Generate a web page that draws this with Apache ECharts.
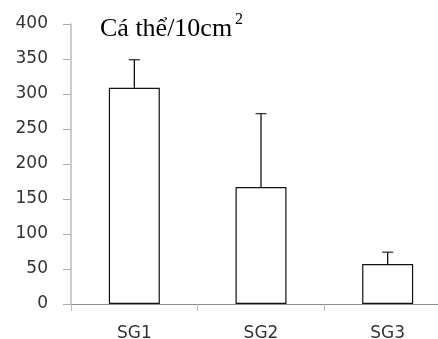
<!DOCTYPE html>
<html>
<head>
<meta charset="utf-8">
<script src="https://cdn.jsdelivr.net/npm/echarts@6/dist/echarts.min.js"></script>
<style>
  html, body { margin: 0; padding: 0; background: #fff; }
  #main { width: 438px; height: 339px; }
</style>
</head>
<body>
<div id="main"></div>
<script>
// values
const categories = ['SG1', 'SG2', 'SG3'];
const means = [309, 167, 57];
const errors = [40, 105, 17];
const yTicks = [0, 50, 100, 150, 200, 250, 300, 350, 400];

const chart = echarts.init(document.getElementById('main'));

const option = {
  animation: false,
  backgroundColor: '#fff',
  // plot area runs past the right edge, as in the cropped original
  grid: { left: 71, width: 380, top: 24, bottom: 35, containLabel: false, outerBoundsMode: 'none' },
  graphic: [
    {
      type: 'text', left: 100, top: 16,
      style: { text: 'Cá thể/10cm', font: '26px "Liberation Serif", serif', fill: '#000' }
    },
    {
      type: 'text', left: 235, top: 12,
      style: { text: '2', font: '16px "Liberation Serif", serif', fill: '#000' }
    }
  ],
  xAxis: {
    type: 'category',
    data: categories,
    axisLine: { lineStyle: { color: '#8c8c8c', width: 1 } },
    axisTick: { show: true, length: 7, lineStyle: { color: '#bbb' } },
    axisLabel: { margin: 21, fontSize: 17, color: '#333', fontFamily: 'DejaVu Sans' },
    splitLine: { show: false }
  },
  yAxis: {
    type: 'value',
    min: yTicks[0],
    max: yTicks[yTicks.length - 1],
    interval: 50,
    axisLine: { show: true, lineStyle: { color: '#bbb', width: 1.5 } },
    axisTick: { show: true, length: 8, lineStyle: { color: '#aaa' } },
    axisLabel: { margin: 23, fontSize: 17, color: '#333', fontFamily: 'DejaVu Sans' },
    splitLine: { show: false }
  },
  series: [
    {
      type: 'bar',
      data: means,
      barWidth: 51,
      itemStyle: { color: '#fff', borderColor: '#111', borderWidth: 1.2 }
    },
    {
      type: 'custom',
      data: means.map((m, i) => [i, m, m + errors[i]]),
      z: 5,
      renderItem: function (params, api) {
        const low = api.coord([api.value(0), api.value(1)]);
        const high = api.coord([api.value(0), api.value(2)]);
        const cap = 5.5;
        return {
          type: 'group',
          children: [
            { type: 'line', shape: { x1: low[0], y1: low[1], x2: high[0], y2: high[1] },
              style: { stroke: '#111', lineWidth: 1.3 } },
            { type: 'line', shape: { x1: high[0] - cap, y1: high[1], x2: high[0] + cap, y2: high[1] },
              style: { stroke: '#333', lineWidth: 1.3 } }
          ]
        };
      }
    }
  ]
};

chart.setOption(option);
</script>
</body>
</html>
